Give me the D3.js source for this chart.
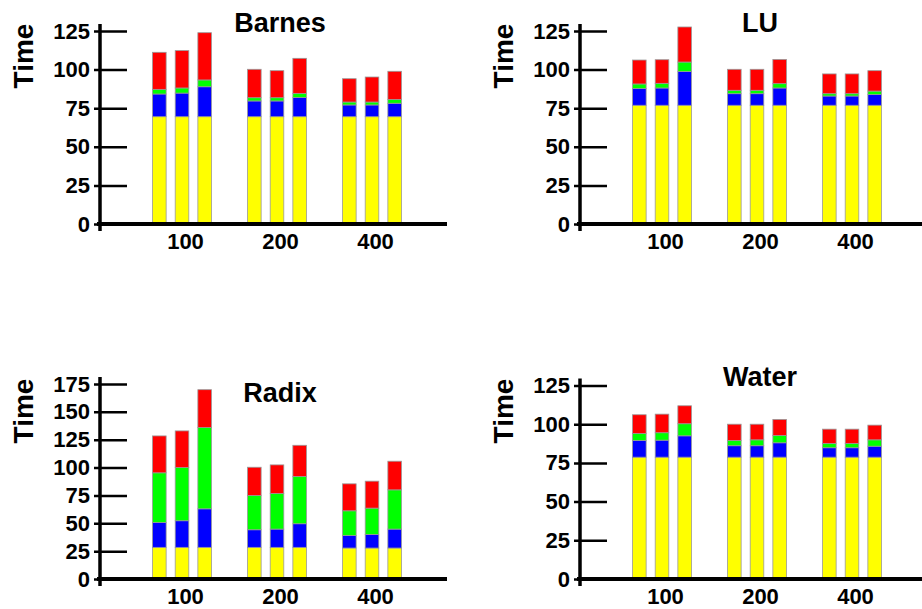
<!DOCTYPE html>
<html>
<head>
<meta charset="utf-8">
<script src="https://cdn.jsdelivr.net/npm/d3@7"></script>
<style>
  body { margin: 0; background: #fff; }
  text { font-family: "Liberation Sans", Arial, sans-serif; font-weight: bold; }
</style>
</head>
<body>
<div id="chart"></div>
<script>
// problem sizes on the x axis, three runs per size
const groups = ["100", "200", "400"];
const runs = [0, 1, 2];
const layers = ["yellow", "blue", "green", "red"];

// each row: yellow, blue, green, red segment (stacked time)
const barnes = [
  [69.5, 14.7, 3.0, 24.0], [69.5, 15.3, 3.3, 24.2], [69.5, 19.4, 4.4, 30.6],
  [69.5, 10.2, 2.1, 18.4], [69.5, 10.2, 2.1, 17.5], [69.5, 12.5, 2.6, 22.7],
  [69.5, 7.6, 1.9, 15.1], [69.5, 7.6, 1.9, 16.2], [69.5, 8.7, 2.5, 18.2]
];
const lu = [
  [76.9, 10.8, 3.0, 15.5], [76.9, 11.2, 3.0, 15.3], [76.9, 21.8, 6.2, 22.7],
  [76.9, 7.5, 2.2, 13.6], [76.9, 7.5, 2.2, 13.6], [76.9, 11.2, 2.8, 15.7],
  [76.9, 6.0, 1.5, 12.8], [76.9, 6.0, 1.5, 12.8], [76.9, 6.9, 2.3, 13.2]
];
const radix = [
  [28.4, 22.4, 44.5, 33.1], [28.4, 23.9, 47.7, 32.9], [28.4, 34.6, 72.9, 34.0],
  [28.4, 15.8, 30.7, 25.4], [28.4, 16.4, 31.9, 25.7], [28.4, 21.2, 42.4, 28.0],
  [27.8, 11.3, 22.1, 24.2], [27.8, 12.2, 23.6, 24.2], [27.8, 17.0, 35.2, 25.7]
];
const water = [
  [78.7, 10.8, 4.5, 12.1], [78.7, 11.0, 4.8, 12.0], [78.7, 13.8, 7.8, 11.6],
  [78.7, 7.4, 3.4, 10.5], [78.7, 7.4, 3.8, 10.1], [78.7, 9.3, 4.7, 10.4],
  [78.7, 6.1, 2.8, 9.2], [78.7, 6.1, 2.8, 9.2], [78.7, 7.1, 4.1, 9.5]
];

const colors = { yellow: "#ffff00", blue: "#0000ff", green: "#00ff00", red: "#ff0000" };

const svg = d3.select("#chart")
  .append("svg")
    .attr("width", 922)
    .attr("height", 609);

const drawPanel = (title, rows, yMax, ox, zeroY, topY, titleY, labelY) => {
  const g = svg.append("g");

  // y-scale
  const y = d3.scaleLinear()
    .domain([0, yMax])
    .range([zeroY, topY]);

  // group scale and run scale inside each group
  const x0 = d3.scaleBand()
    .domain(groups)
    .range([ox + 138, ox + 423]);
  const x1 = d3.scaleBand()
    .domain(runs)
    .range([-34, 34])
    .paddingInner(0.4)
    .paddingOuter(0.2);

  const table = rows.map((r, i) => {
    const o = { group: groups[Math.floor(i / 3)], run: i % 3 };
    layers.forEach((k, j) => { o[k] = r[j]; });
    return o;
  });
  const stacked = d3.stack().keys(layers)(table);

  // bars
  g.selectAll("g.layer")
    .data(stacked)
    .join("g")
      .attr("class", "layer")
      .attr("fill", d => colors[d.key])
    .selectAll("rect")
    .data(d => d)
    .join("rect")
      .attr("x", d => x0(d.data.group) + x0.bandwidth() / 2 - 3.5 + x1(d.data.run))
      .attr("y", d => y(d[1]))
      .attr("width", x1.bandwidth())
      .attr("height", d => y(d[0]) - y(d[1]))
      .attr("stroke", "#999")
      .attr("stroke-width", 0.8);

  // y-axis
  const yAxis = g.append("g")
    .attr("transform", `translate(${ox + 100},0)`)
    .call(d3.axisLeft(y)
      .tickValues(d3.range(0, yMax + 1, 25))
      .tickSizeInner(-27)
      .tickSizeOuter(0)
      .tickPadding(10));
  yAxis.select(".domain").remove();
  yAxis.selectAll(".tick line")
    .attr("x1", -6)
    .attr("x2", 27)
    .attr("stroke", "#000")
    .attr("stroke-width", 2.5);
  yAxis.selectAll(".tick text")
    .style("font-size", "22px")
    .attr("fill", "#000");

  g.append("line")
    .attr("x1", ox + 100).attr("x2", ox + 100)
    .attr("y1", topY - 7).attr("y2", zeroY + 7)
    .attr("stroke", "#000")
    .attr("stroke-width", 3.5);

  // x-axis
  const xAxis = g.append("g")
    .attr("transform", `translate(0,${zeroY})`)
    .call(d3.axisBottom(x0).tickSize(0).tickPadding(9));
  xAxis.select(".domain").remove();
  xAxis.selectAll(".tick text")
    .style("font-size", "22px")
    .attr("fill", "#000");

  g.append("line")
    .attr("x1", ox + 97).attr("x2", ox + 447)
    .attr("y1", zeroY).attr("y2", zeroY)
    .attr("stroke", "#000")
    .attr("stroke-width", 4);

  // y-axis label
  g.append("text")
    .attr("transform", `translate(${ox + 33},${labelY}) rotate(-90)`)
    .attr("text-anchor", "middle")
    .style("font-size", "28px")
    .text("Time");

  // panel title
  g.append("text")
    .attr("x", ox + 280)
    .attr("y", titleY)
    .attr("text-anchor", "middle")
    .style("font-size", "27px")
    .text(title);
};

drawPanel("Barnes", barnes, 125, 0, 224, 31, 31.5, 56);
drawPanel("LU", lu, 125, 480, 224, 31, 31.5, 56);
drawPanel("Radix", radix, 175, 0, 579, 384, 401.5, 411);
drawPanel("Water", water, 125, 480, 579, 385.5, 386, 411);
</script>
</body>
</html>
